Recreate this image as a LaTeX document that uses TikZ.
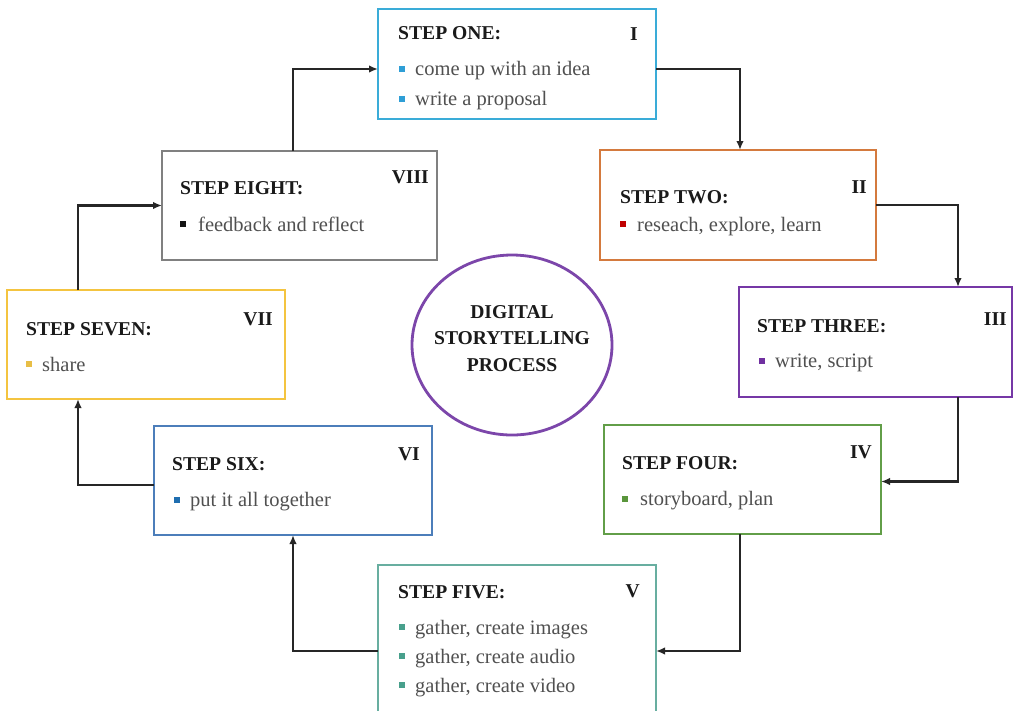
\documentclass[tikz,border=0pt]{standalone}
\usepackage{fontspec}
\setmainfont{Liberation Serif}
\usetikzlibrary{arrows.meta,calc,shapes.geometric}

\definecolor{cOne}{RGB}{58,172,216}
\definecolor{cTwo}{RGB}{212,122,62}
\definecolor{cThree}{RGB}{118,56,166}
\definecolor{cFour}{RGB}{98,158,72}
\definecolor{cFive}{RGB}{104,174,160}
\definecolor{cSix}{RGB}{76,126,186}
\definecolor{cSeven}{RGB}{244,196,64}
\definecolor{cEight}{RGB}{128,128,128}
\definecolor{cHub}{RGB}{124,70,170}
\definecolor{bOne}{RGB}{46,158,214}
\definecolor{bTwo}{RGB}{192,0,0}
\definecolor{bThree}{RGB}{112,48,160}
\definecolor{bFour}{RGB}{90,150,60}
\definecolor{bFive}{RGB}{72,160,140}
\definecolor{bSix}{RGB}{31,110,176}
\definecolor{bSeven}{RGB}{232,190,70}
\definecolor{bEight}{RGB}{20,20,20}
\definecolor{headc}{RGB}{26,26,26}
\definecolor{bodyc}{RGB}{80,80,80}

\tikzset{
  stepbox/.style={draw, line width=2.8pt, fill=white, inner sep=0, outer sep=0},
  head/.style={anchor=base west, inner sep=0, text=headc,
    font=\fontsize{19.6}{23}\selectfont\bfseries},
  numeral/.style={anchor=base east, inner sep=0, text=headc,
    font=\fontsize{19.6}{23}\selectfont\bfseries},
  item/.style={anchor=base west, inner sep=0, text=bodyc,
    font=\fontsize{20.5}{24}\selectfont},
  sq/.style={rectangle, inner sep=0, minimum size=5.5pt, draw=none},
  link/.style={line width=2.2pt, draw=black!85, -{Latex[length=9pt,width=7.5pt]}},
}

\begin{document}
\begin{tikzpicture}[x=1pt,y=-1pt]
\useasboundingbox (0,0) rectangle (1016,710);
\clip (0,0) rectangle (1016,710);
\fill[white] (0,0) rectangle (1016,710);

% step boxes
\node[stepbox, draw=cOne,   minimum width=278, minimum height=110] (b1) at (517,64) {};
\node[stepbox, draw=cTwo,   minimum width=276, minimum height=110] (b2) at (738,205) {};
\node[stepbox, draw=cThree, minimum width=273, minimum height=110] (b3) at (875.5,342) {};
\node[stepbox, draw=cFour,  minimum width=277, minimum height=109] (b4) at (742.5,479.5) {};
\node[stepbox, draw=cFive,  minimum width=278, minimum height=155] (b5) at (517,642.5) {};
\node[stepbox, draw=cSix,   minimum width=278, minimum height=109] (b6) at (293,480.5) {};
\node[stepbox, draw=cSeven, minimum width=278, minimum height=109] (b7) at (146,344.5) {};
\node[stepbox, draw=cEight, minimum width=275, minimum height=109] (b8) at (299.5,205.5) {};

% centre
\node[draw=cHub, line width=2.8pt, ellipse, minimum width=200, minimum height=180,
      inner sep=0] (hub) at (512,345) {};
\node[anchor=base, inner sep=0, text=headc, align=center,
      font=\fontsize{19.6}{26.5}\selectfont\bfseries] (hubtxt) at (512,371)
      {DIGITAL\\STORYTELLING\\PROCESS};

% step one
\node[head] (h1) at (398,39) {STEP ONE:};
\node[numeral] (n1) at (638,40) {I};
\node[sq, fill=bOne] (p1a) at (402,69) {};
\node[sq, fill=bOne] (p1b) at (402,99) {};
\node[item] (t1a) at (415,75) {come up with an idea};
\node[item] (t1b) at (415,105) {write a proposal};

% step two
\node[head] (h2) at (620,203) {STEP TWO:};
\node[numeral] (n2) at (867,193) {II};
\node[sq, fill=bTwo] (p2) at (623,224) {};
\node[item] (t2) at (637,231) {reseach,\ explore,\ learn};

% step three
\node[head] (h3) at (757,332) {STEP THREE:};
\node[numeral] (n3) at (1007,325) {III};
\node[sq, fill=bThree] (p3) at (762,361) {};
\node[item] (t3) at (775,367) {write, script};

% step four
\node[head] (h4) at (622,469) {STEP FOUR:};
\node[numeral] (n4) at (872,458) {IV};
\node[sq, fill=bFour] (p4) at (625,499) {};
\node[item] (t4) at (640,505) {storyboard, plan};

% step five
\node[head] (h5) at (398,598) {STEP FIVE:};
\node[numeral] (n5) at (640,597) {V};
\node[sq, fill=bFive] (p5a) at (402,627) {};
\node[sq, fill=bFive] (p5b) at (402,656) {};
\node[sq, fill=bFive] (p5c) at (402,685) {};
\node[item] (t5a) at (415,634) {gather, create images};
\node[item] (t5b) at (415,663) {gather, create audio};
\node[item] (t5c) at (415,692) {gather, create video};

% step six
\node[head] (h6) at (172,470) {STEP SIX:};
\node[numeral] (n6) at (420,460) {VI};
\node[sq, fill=bSix] (p6) at (177,500) {};
\node[item] (t6) at (190,506) {put it all together};

% step seven
\node[head] (h7) at (26,335) {STEP SEVEN:};
\node[numeral] (n7) at (273,325) {VII};
\node[sq, fill=bSeven] (p7) at (29,364) {};
\node[item] (t7) at (42,371) {share};

% step eight
\node[head] (h8) at (180,194) {STEP EIGHT:};
\node[numeral] (n8) at (429,183) {VIII};
\node[sq, fill=bEight] (p8) at (183,224) {};
\node[item] (t8) at (198,231) {feedback and reflect};

% connectors around the cycle
\draw[link] ($(b8.north)+(-6.5,0)$) |- ($(b1.west)+(0,5)$);
\draw[link] ($(b1.east)+(0,5)$) -| ($(b2.north)+(2,0)$);
\draw[link] (b2.east) -| ($(b3.north)+(82.5,0)$);
\draw[link] ($(b3.south)+(82.5,0)$) |- ($(b4.east)+(0,2)$);
\draw[link] ($(b4.south)+(-2.5,0)$) |- ($(b5.east)+(0,8.5)$);
\draw[link] ($(b5.west)+(0,8.5)$) -| (b6.south);
\draw[link] ($(b6.west)+(0,4.5)$) -| ($(b7.south)+(-68,0)$);
\draw[link] ($(b7.north)+(-68,0)$) |- (b8.west);
\end{tikzpicture}
\end{document}
